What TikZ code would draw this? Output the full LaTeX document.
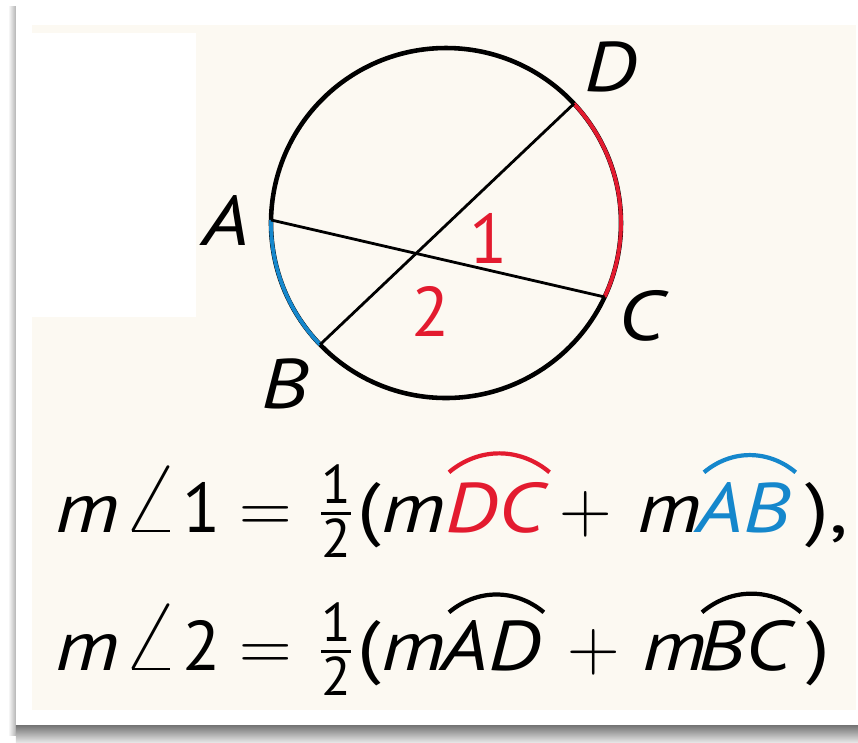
\documentclass[tikz,border=0pt]{standalone}
\usepackage{amsmath}
\usepackage{graphicx}
\usepackage{fontspec}
\setmainfont{PT Sans}[FakeStretch=1.2]
\newfontfamily\digitfont{PT Sans}
\usepackage{tikz}
\usetikzlibrary{calc}
\definecolor{arcred}{HTML}{E31B2F}
\definecolor{arcblue}{HTML}{1587CC}
\definecolor{paper}{HTML}{FCF9F2}
\newcommand{\fracdigit}[1]{\hbox{\digitfont\fontsize{15.5}{15.5}\selectfont #1}}
\newcommand{\mhalf}{$\frac{\fracdigit{1}}{\fracdigit{2}}$}
\newcommand{\bigangle}{\scalebox{1.5}[1.4]{$\angle$}}

\begin{document}
\begin{tikzpicture}[x=0.1mm, y=0.1mm,
  eq/.style={anchor=base west, inner sep=0pt, font=\fontsize{20}{24}\selectfont},
  op/.style={anchor=base, inner sep=0pt, font=\fontsize{20}{24}\selectfont},
  ptlabel/.style={inner sep=0pt, font=\fontsize{20}{24}\selectfont\itshape},
  anglenum/.style={inner sep=0pt, text=arcred, font=\digitfont\fontsize{20}{24}\selectfont},
  chord/.style={line width=0.8pt},
  hat/.style={line width=1.2pt, bend left=40}]
\useasboundingbox (0,0) rectangle (858,-743);
% card, shadow and paper
\fill[white] (0,0) rectangle (858,-743);
\shade[left color=white, right color=black!30] (8,-6) rectangle (16,-735);
\shade[top color=black!55, bottom color=black!8] (16,-725) rectangle (858,-743);
\fill[paper] (32,-25) rectangle (856,-710);
\fill[white] (32,-33) rectangle (196,-317);
% circle and chords
\coordinate (O) at (446,-223);
\coordinate (A) at ($(O)+(179:175)$);
\coordinate (B) at ($(O)+(224:175)$);
\coordinate (C) at ($(O)+(-25:175)$);
\coordinate (D) at ($(O)+(43:175)$);
\draw[line width=1.3pt] (O) circle[radius=175];
\draw[arcblue, line width=1.1pt] (A) arc[start angle=179, end angle=224, radius=175];
\draw[arcred, line width=1.1pt] (C) arc[start angle=-25, end angle=43, radius=175];
\draw[chord] (A) -- (C);
\draw[chord] (B) -- (D);
\node[ptlabel] (lA) at (226,-220) {A};
\node[ptlabel] (lB) at (285,-384) {B};
\node[ptlabel] (lC) at (641,-316) {C};
\node[ptlabel] (lD) at (611,-67) {D};
\node[anglenum] (n1) at (489,-238) {1};
\node[anglenum] (n2) at (431,-311) {2};
% first formula
\node[eq] (m1) at (55,-532) {\textit{m}};
\node[eq] (ang1) at (121,-532) {\bigangle};
\node[eq, font=\digitfont\fontsize{20}{24}\selectfont] (k1) at (182,-532) {1};
\node[op] (eq1) at (266,-532) {$=$};
\node[op] (fr1) at (336,-532) {\mhalf};
\node[eq] (p1) at (357,-532) {(\textit{m}};
\node[eq, text=arcred] (arcDC) at (445,-532) {\textit{DC}};
\node[op] (plus1) at (586,-532) {$+$};
\node[eq] (m1b) at (637,-532) {\textit{m}};
\node[eq, text=arcblue] (arcAB) at (696,-532) {\textit{AB}};
\node[eq] (cl1) at (805,-532) {),};
\draw[hat, arcred] ([shift={(4,9)}]arcDC.north west) to ([shift={(0,9)}]arcDC.north east);
\draw[hat, arcblue] ([shift={(8,9)}]arcAB.north west) to ([shift={(4,9)}]arcAB.north east);
% second formula
\node[eq] (m2) at (55,-670) {\textit{m}};
\node[eq] (ang2) at (121,-670) {\bigangle};
\node[eq, font=\digitfont\fontsize{20}{24}\selectfont] (k2) at (182,-670) {2};
\node[op] (eq2) at (266,-670) {$=$};
\node[op] (fr2) at (336,-670) {\mhalf};
\node[eq] (p2) at (357,-670) {(\textit{m}};
\node[eq] (arcAD) at (441,-670) {\textit{AD}};
\node[op] (plus2) at (594,-670) {$+$};
\node[eq] (m2b) at (642,-670) {\textit{m}};
\node[eq] (arcBC) at (698,-670) {\textit{BC}};
\node[eq] (cl2) at (806,-670) {)};
\draw[hat] ([shift={(8,7)}]arcAD.north west) to ([shift={(2,7)}]arcAD.north east);
\draw[hat] ([shift={(4,7)}]arcBC.north west) to ([shift={(4,7)}]arcBC.north east);
\end{tikzpicture}
\end{document}
